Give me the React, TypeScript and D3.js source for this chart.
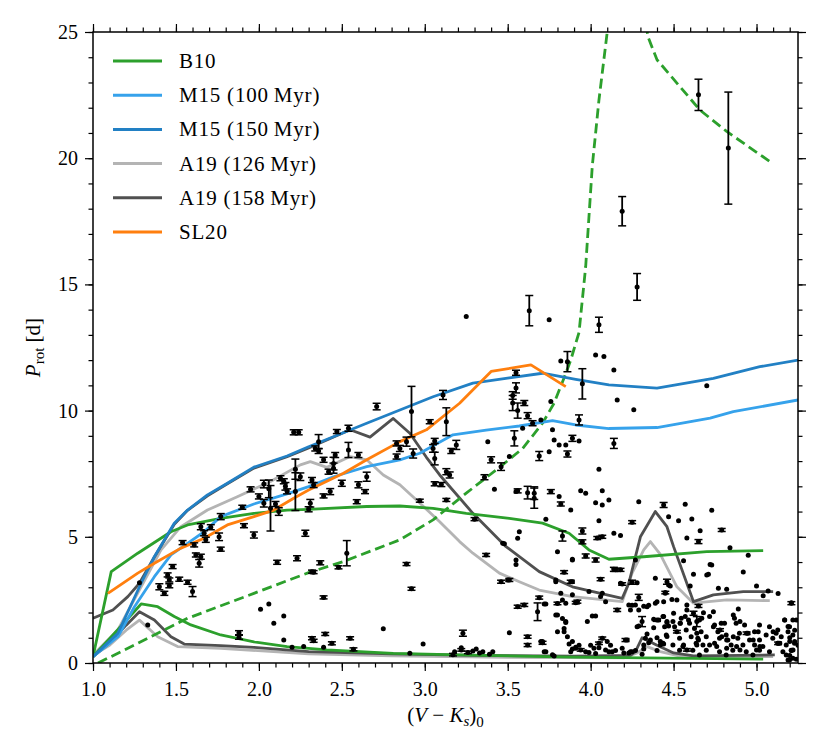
import * as d3 from "d3";
import { useEffect, useRef } from "react";

// gyrochronology model tracks, [colour index (V-Ks)0, Prot in days]
const b10Upper = [[1.0,0.25],[1.11,3.62],[1.27,4.35],[1.47,5.2],[1.57,5.47],[1.77,5.73],[1.97,5.93],[2.17,6.06],[2.3,6.09],[2.65,6.2],[2.85,6.22],[3.05,6.13],[3.25,5.93],[3.51,5.73],[3.71,5.54],[3.87,5.14],[3.99,4.48],[4.11,4.11],[4.32,4.21],[4.7,4.41],[5.04,4.45]];
const b10Lower = [[1.0,0.25],[1.13,1.18],[1.29,2.34],[1.39,2.23],[1.49,1.84],[1.59,1.51],[1.77,1.11],[1.97,0.84],[2.17,0.65],[2.41,0.52],[2.81,0.38],[3.21,0.32],[3.89,0.23],[5.04,0.15]];
const b10DashA = [[1.03,0],[1.17,0.45],[1.57,1.77],[1.97,2.76],[2.3,3.58],[2.51,4.02],[2.85,4.88],[3.05,5.67],[3.25,6.73],[3.45,7.75],[3.59,8.5],[3.71,9.5],[3.78,10.3],[3.84,11.3],[3.88,12.0],[3.93,13.1],[3.97,15.7],[4.01,19.7],[4.05,22.3],[4.1,25],[4.13,27]];
const b10DashB = [[4.31,26.5],[4.345,24.82],[4.4,23.9],[4.66,21.9],[4.82,21.06],[5.08,19.87]];
const m15y100 = [[1.0,0.25],[1.15,1.04],[1.25,2.23],[1.37,3.42],[1.47,4.28],[1.57,4.74],[1.67,5.2],[1.77,5.8],[1.97,6.3],[2.17,6.7],[2.3,6.99],[2.45,7.38],[2.65,7.78],[2.85,8.05],[2.97,8.31],[3.17,9.04],[3.37,9.23],[3.57,9.39],[3.77,9.6],[3.91,9.43],[4.11,9.29],[4.4,9.33],[4.72,9.7],[4.86,9.96],[5.25,10.42]];
const m15y150 = [[1.0,0.25],[1.15,1.18],[1.29,3.16],[1.37,4.21],[1.49,5.54],[1.57,6.06],[1.69,6.66],[1.81,7.12],[1.97,7.76],[2.17,8.2],[2.3,8.57],[2.65,9.5],[3.05,10.55],[3.29,11.09],[3.51,11.3],[3.71,11.48],[3.91,11.24],[4.11,11.02],[4.4,10.89],[4.74,11.28],[5.02,11.74],[5.25,12.0]];
const a19y126Upper = [[1.0,0.32],[1.15,1.31],[1.29,3.02],[1.41,4.48],[1.53,5.4],[1.69,6.06],[1.87,6.59],[2.07,7.19],[2.25,7.85],[2.31,7.98],[2.41,7.75],[2.55,8.18],[2.65,8.05],[2.75,7.45],[2.85,7.06],[2.95,6.46],[3.09,5.6],[3.21,4.81],[3.29,4.35],[3.45,3.56],[3.57,3.22],[3.69,2.89],[3.89,2.63],[4.19,2.43],[4.25,3.56],[4.32,4.48],[4.36,4.81],[4.42,4.3],[4.52,3.02],[4.62,2.37],[4.82,2.5],[5.08,2.47]];
const a19y126Lower = [[1.0,0.3],[1.1,0.7],[1.2,1.3],[1.28,1.7],[1.39,1.04],[1.51,0.65],[1.77,0.58],[2.3,0.36],[2.8,0.28],[3.5,0.22],[4.2,0.2],[4.28,0.4],[4.34,0.65],[4.42,0.45],[4.55,0.25],[5.1,0.25]];
const a19y158Upper = [[1.0,1.77],[1.12,2.1],[1.21,2.63],[1.28,3.16],[1.37,4.2],[1.49,5.5],[1.57,6.05],[1.69,6.62],[1.81,7.1],[1.97,7.72],[2.17,8.17],[2.3,8.52],[2.55,9.24],[2.67,8.95],[2.81,9.69],[2.91,9.1],[3.01,8.15],[3.09,7.45],[3.29,5.93],[3.49,4.61],[3.69,3.62],[3.89,3.02],[4.19,2.56],[4.23,3.16],[4.3,5.0],[4.39,6.0],[4.46,5.4],[4.5,4.61],[4.62,2.43],[4.74,2.7],[4.92,2.83],[5.1,2.83]];
const a19y158Lower = [[1.0,0.25],[1.1,0.8],[1.2,1.5],[1.28,2.03],[1.37,1.7],[1.47,1.04],[1.55,0.75],[1.77,0.69],[1.97,0.62],[2.3,0.45],[2.8,0.36],[3.3,0.3],[3.9,0.27],[4.24,0.3],[4.27,0.45],[4.31,1.0],[4.4,0.7],[4.5,0.4],[4.62,0.28],[5.11,0.32]];
const sl20 = [[1.09,2.76],[1.27,3.56],[1.37,3.95],[1.53,4.55],[1.67,4.94],[1.81,5.47],[1.97,5.8],[2.09,6.06],[2.21,6.53],[2.3,6.85],[2.51,7.52],[2.65,8.05],[2.85,8.77],[3.01,9.24],[3.21,10.29],[3.4,11.55],[3.64,11.81],[3.85,10.95]];

// measured periods with uncertainties [x, Prot, err]
const errPoints = [
  [2.21,9.14,0.1],[2.24,9.14,0.1],[2.22,7.68,0.4],[2.22,6.79,0.75],[2.25,7.38,0.15],
  [1.40,3.02,0.12],[1.60,2.83,0.2],[1.54,4.77,0.08],[1.61,4.68,0.08],[1.62,4.28,0.08],[1.65,4.21,0.1],[1.64,3.95,0.15],[1.65,5.4,0.12],[1.67,5.14,0.1],[1.68,4.88,0.1],[1.71,5.38,0.1],[1.76,5.0,0.15],[1.77,4.51,0.08],[1.77,5.8,0.12],[1.90,6.17,0.08],[1.91,5.44,0.08],[1.97,5.07,0.12],[1.95,6.88,0.1],[2.0,6.6,0.1],[2.03,7.09,0.15],[2.03,6.33,0.15],[2.06,6.9,0.35],[2.07,6.13,0.9],[2.10,6.3,0.1],[2.12,6.0,0.15],[2.13,7.32,0.1],[2.15,7.2,0.1],[2.16,7.0,0.15],[2.17,6.8,0.1],[2.11,3.99,0.08],[2.23,4.15,0.1],[1.88,1.2,0.08],[1.88,1.02,0.08],[1.46,3.29,0.08],[1.48,3.82,0.08],[1.52,3.32,0.08],[1.57,3.2,0.08],[1.43,2.76,0.08],[1.45,3.49,0.08],[1.46,3.06,0.08],
  [2.71,10.16,0.13],[2.92,9.96,1.0],[3.11,10.62,0.18],[3.03,9.56,0.08],[3.13,9.56,0.55],[2.54,9.3,0.12],[2.47,9.17,0.08],[2.36,8.77,0.28],[2.34,8.5,0.1],[2.36,8.4,0.1],[2.54,8.44,0.3],[2.46,8.24,0.1],[2.45,7.9,0.25],[2.45,7.72,0.2],[2.39,8.05,0.1],[2.42,7.58,0.1],[2.60,8.24,0.1],[2.65,7.38,0.18],[2.50,7.12,0.12],[2.60,7.06,0.12],[2.64,6.79,0.08],[2.43,6.79,0.12],[2.39,6.62,0.08],[2.32,7.25,0.1],[2.33,7.05,0.1],[2.31,6.33,0.15],[2.30,6.09,0.1],[2.28,5.14,0.12],[2.59,6.39,0.08],[2.53,4.35,0.5],[2.37,3.97,0.08],[2.32,3.62,0.06],[2.33,3.6,0.06],[2.48,3.79,0.06],[2.39,2.6,0.06],[2.89,3.92,0.06],[2.92,2.94,0.06],[2.32,0.98,0.06],[2.33,0.88,0.06],[2.40,1.15,0.06],[2.44,0.78,0.06],[2.55,0.98,0.06],[2.57,0.54,0.06],[3.23,1.18,0.12],[3.17,0.33,0.05],[3.22,0.52,0.05],[3.26,0.42,0.05],
  [2.89,8.77,0.18],[2.83,8.7,0.1],[2.85,8.5,0.12],[2.83,8.18,0.1],[2.93,8.3,0.18],[3.06,8.8,0.1],[3.05,8.5,0.15],[3.06,8.1,0.25],[3.19,8.64,0.18],[3.16,8.4,0.1],[3.13,7.58,0.12],[3.15,7.45,0.12],[3.06,7.1,0.08],[3.10,7.07,0.08],[3.13,6.46,0.06],[2.97,6.43,0.06],[3.30,5.7,0.06],[3.36,7.36,0.1],[3.40,8.05,0.12],[3.46,7.78,0.15],[3.54,8.9,0.3],[3.53,10.6,0.15],[3.53,10.3,0.3],[3.55,10.9,0.2],[3.56,10.0,0.3],[3.60,10.3,0.1],[3.62,9.8,0.12],[3.65,9.5,0.1],[3.37,4.28,0.06],[3.46,3.22,0.06],[3.51,3.29,0.06],
  [3.63,13.96,0.6],[4.05,13.4,0.3],[4.28,14.9,0.53],[3.86,11.94,0.4],[3.95,11.06,0.6],[3.55,11.5,0.1],[4.65,22.51,0.62],[4.83,20.4,2.22],[4.19,17.9,0.58],
  [3.93,9.63,0.2],[3.89,8.9,0.12],[3.86,8.28,0.12],[3.69,8.2,0.18],[4.14,8.7,0.2],[3.56,6.82,0.08],[3.62,6.75,0.25],[3.66,6.73,0.25],[3.66,6.53,0.4],[3.76,6.79,0.08],[3.82,6.3,0.08],[4.44,6.26,0.1],[4.25,5.58,0.06],[3.83,5.03,0.2],[3.95,5.23,0.12],[3.95,4.8,0.08],[4.04,4.95,0.06],[4.07,5.0,0.06],[3.97,4.24,0.08],[4.03,4.08,0.08],[4.15,3.69,0.06],[4.18,3.69,0.06],[3.84,3.6,0.06],[3.88,3.22,0.06],[4.06,3.32,0.06],[3.69,2.59,0.06],[3.92,2.43,0.06],[3.60,2.3,0.06],[3.56,2.23,0.06],[3.68,2.03,0.35],[4.16,2.1,0.06],[4.31,1.64,0.2],[4.21,0.91,0.06],[3.62,1.04,0.06],[3.62,0.71,0.06],[3.71,0.8,0.06],
  [4.79,5.27,0.06],[4.65,4.81,0.08],[5.21,2.37,0.06],[4.46,3.22,0.1],[4.29,2.6,0.12],[4.25,3.2,0.08],[4.14,3.71,0.08],[4.62,1.97,0.08],[4.64,1.64,0.2],
  [3.80,2.36,0.05],[3.91,2.39,0.05],[4.19,3.13,0.05],[4.45,2.79,0.05],[4.65,2.26,0.06],[4.40,1.7,0.05],[4.07,0.98,0.05],[4.05,0.78,0.05],[3.94,0.52,0.05],[4.52,1.24,0.05],[4.78,1.31,0.05],[4.94,1.18,0.05],[5.13,0.78,0.05],[4.58,0.52,0.05],
];

// periods without plotted uncertainty [x, Prot]
const dots = [
  [1.28,3.18],[1.33,1.51],[2.01,2.13],[2.06,2.34],[2.09,1.57],[2.15,1.86],[2.15,0.91],[2.20,0.62],[2.27,0.65],[2.39,0.62],[2.75,1.36],[2.99,0.75],[2.91,0.39],[3.29,0.48],[3.33,0.4],[3.35,0.45],[3.51,1.2],[3.38,8.77],[3.42,6.88],[3.51,8.18],[3.55,6.79],[3.48,4.72],[3.55,3.9],
  [3.25,13.73],[3.75,13.6],[3.82,11.97],[4.03,12.2],[4.08,12.14],[4.14,11.61],[4.16,10.42],[3.76,10.36],[4.26,10.03],[3.59,9.3],[3.70,9.63],[3.77,9.24],[3.78,8.84],[3.81,8.64],[3.85,8.64],[3.93,8.8],[3.75,8.37],[4.05,7.68],[3.81,6.6],[3.88,6.06],[3.94,6.82],[3.97,6.73],[4.03,6.35],[4.07,6.26],[4.07,6.82],[4.11,6.46],[4.05,5.64],[4.29,6.39],[3.73,5.7],[3.57,5.2],[3.56,4.94],[4.14,5.14],[4.18,5.05],[3.80,4.41],[3.89,4.11],[3.79,3.22],[4.39,3.36],[3.82,2.76],[3.83,2.5],[3.89,2.7],[3.72,2.34],[3.85,2.37],[3.79,1.9],[3.83,1.76],[3.85,1.6],[3.84,1.24],[3.98,1.64],[4.03,1.86],[4.06,2.63],[4.09,2.43],[4.23,2.3],[4.25,2.29],[4.32,2.25],[4.35,2.29],[4.29,1.47],[4.39,2.37],[4.41,1.7],[4.44,1.84],[4.46,1.6],[3.80,1.24],[3.84,1.37],[3.86,1.04],[3.87,0.75],[3.91,0.62],[3.93,0.7],[3.89,0.55],[4.00,0.7],[4.05,0.6],[4.10,0.85],[4.12,0.7],[4.11,0.45],[4.15,0.5],[4.20,0.4],[4.23,0.4],[4.27,0.5],[3.72,0.45],[3.77,0.33],[3.88,0.45],[3.99,0.42],[4.03,0.38],[4.38,1.4],[4.40,1.0],[4.42,0.85],[4.44,0.75],[4.46,1.05],[4.33,0.98],[4.35,0.8],[4.47,1.47],[4.25,0.45],[4.32,0.55],[4.31,0.35],[4.40,0.5],
  [4.70,10.98],[4.57,6.29],[4.73,6.05],[4.47,5.79],[4.53,5.64],[4.61,5.71],[4.66,5.24],[4.58,4.95],[4.84,4.57],[4.95,4.27],[4.56,4.05],[4.72,3.9],[4.62,3.52],[4.71,3.52],[4.92,3.61],[4.48,3.05],[4.60,3.05],[4.77,2.96],[4.82,2.92],[5.00,3.05],[4.52,2.5],[5.07,2.85],[5.13,2.75],[4.89,2.14],[5.04,2.66],
  [4.436,1.84],[4.496,1.64],[4.546,1.77],[4.596,1.57],[4.656,1.7],[4.717,1.84],[4.747,1.51],[4.787,1.57],[4.807,1.57],[4.867,1.77],[4.877,1.57],[4.928,1.51],[5.018,1.51],[5.078,1.44],[5.128,1.31],[5.169,1.7],[5.219,1.7],
  [4.446,1.44],[4.506,1.44],[4.576,1.31],[4.626,1.37],[4.666,1.24],[4.767,1.24],[4.817,1.11],[4.897,1.18],[4.948,1.18],[4.988,1.24],[5.058,1.11],[5.118,1.18],[5.199,1.44],
  [4.456,1.11],[4.536,0.98],[4.606,1.04],[4.646,0.98],[4.697,1.04],[4.777,0.98],[4.827,0.91],[4.887,0.98],[4.958,0.91],[5.018,0.91],[5.098,0.98],[5.149,1.04],[5.219,1.11],
  [4.436,0.78],[4.496,0.71],[4.556,0.65],[4.636,0.78],[4.677,0.71],[4.717,0.71],[4.747,0.78],[4.847,0.71],[4.918,0.71],[4.988,0.71],[5.038,0.65],[5.128,0.78],[5.179,0.71],[5.229,0.78],
  [4.536,0.51],[4.616,0.51],[4.697,0.51],[4.777,0.45],[4.857,0.51],[4.938,0.45],[5.018,0.51],[5.078,0.45],[5.159,0.45],[5.209,0.51],
  [4.656,0.32],[4.817,0.32],[4.978,0.32],[5.179,0.32],[5.199,0.12],[5.219,0.19],
  [5.24,1.7],[5.19,1.45],[5.23,1.3],[5.2,1.0],[5.23,0.85],[5.25,0.7],[5.21,0.5],[5.2,0.3],[5.24,0.15],[5.21,2.39],
  [3.47,4.74],[3.55,4.08],[3.5,3.29],[3.73,2.34],[3.79,3.29],[3.89,3.22],[3.89,4.08],[3.7,0.85],[3.78,0.28],[3.18,0.45],[3.22,0.6],[3.31,0.55],[3.39,0.35],[3.41,0.45],
  [4.27,4.08],[4.18,3.16],[4.29,2.1],[4.34,2.23],[4.24,2.1],[4.28,1.44],[4.45,2.76],[4.40,2.43],[4.44,2.43],
  [4.5,1.97],[4.54,1.57],[4.58,2.1],[4.67,1.77],
  [3.99,2.83],[4.07,2.76],[4.28,3.18],[4.47,3.09],[4.70,3.49],[4.73,3.88],[4.27,2.3],[4.49,2.52],[4.58,2.3],[4.68,1.99],[4.74,2.03],[4.86,1.9],[4.90,1.64],[4.57,1.84],[4.59,1.7],[4.46,1.64],[4.38,1.73],[4.01,1.86],[3.80,1.9],[3.85,1.64],[3.71,0.85],[3.73,0.45],
  [4.34,1.15],[4.36,0.91],[4.32,0.71],[4.42,0.71],[4.02,0.58],[4.09,0.52],[4.13,0.45],[3.89,0.85],[3.91,0.58],[3.97,0.45],[4.22,0.91],[4.19,0.58],[4.24,0.45],[4.54,1.57],[4.64,1.18],[4.65,0.91],[4.64,0.71],[4.74,1.44],[4.79,1.04],[4.76,0.65],[4.82,0.91],[4.86,1.04],[4.88,0.65],[4.98,0.91],[5.01,1.24],[5.02,0.65],[5.0,0.52],[5.10,1.24],[5.14,0.78],[5.17,1.7],[5.19,1.24],[5.20,0.85],[5.22,0.52],[5.19,0.12],[4.56,0.71],[4.82,0.58],[4.90,0.52],
];

const xTicks = [1.0, 1.5, 2.0, 2.5, 3.0, 3.5, 4.0, 4.5, 5.0];
const yTicks = [0, 5, 10, 15, 20, 25];

const series = [
  { name: "B10", color: "#2ca02c" },
  { name: "M15 (100\u2009Myr)", color: "#36a2eb" },
  { name: "M15 (150\u2009Myr)", color: "#2280c4" },
  { name: "A19 (126\u2009Myr)", color: "#b4b4b4" },
  { name: "A19 (158\u2009Myr)", color: "#505050" },
  { name: "SL20", color: "#ff7f0e" },
];

const FONT = "'Liberation Serif', 'DejaVu Serif', serif";

const App = () => {
  const svgRef = useRef(null);

  useEffect(() => {
    const width = 830;
    const height = 755;
    const left = 93, right = 798, top = 32, bottom = 663;

    const root = d3.select(svgRef.current);
    root.selectAll("*").remove();
    const svg = root.attr("width", width).attr("height", height);

    const x = d3.scaleLinear().domain([1.0, 5.25]).range([left, right]);
    const y = d3.scaleLinear().domain([0, 25]).range([bottom, top]);

    svg.append("defs").append("clipPath").attr("id", "plot-clip")
      .append("rect").attr("x", left).attr("y", top)
      .attr("width", right - left).attr("height", bottom - top);

    const plot = svg.append("g").attr("clip-path", "url(#plot-clip)");
    const line = d3.line().x((d) => x(d[0])).y((d) => y(d[1]));

    const drawLine = (data, color, dash = null) => {
      plot.append("path").datum(data)
        .attr("d", line)
        .attr("fill", "none")
        .attr("stroke", color)
        .attr("stroke-width", 2.8)
        .attr("stroke-linejoin", "round")
        .attr("stroke-dasharray", dash);
    };

    // models (gray drawn first so the blue sits over it)
    drawLine(a19y126Upper, series[3].color);
    drawLine(a19y126Lower, series[3].color);
    drawLine(a19y158Upper, series[4].color);
    drawLine(a19y158Lower, series[4].color);
    drawLine(b10Upper, series[0].color);
    drawLine(b10Lower, series[0].color);
    drawLine(b10DashA, series[0].color, "10,5");
    drawLine(b10DashB, series[0].color, "10,5");
    drawLine(m15y100, series[1].color);
    drawLine(m15y150, series[2].color);
    drawLine(sl20, series[5].color);

    // data points
    const pts = plot.append("g");
    pts.selectAll("circle.dot").data(dots).enter().append("circle")
      .attr("class", "dot")
      .attr("cx", (d) => x(d[0])).attr("cy", (d) => y(d[1]))
      .attr("r", 2.5).attr("fill", "black");

    const eb = pts.selectAll("g.eb").data(errPoints).enter().append("g").attr("class", "eb");
    eb.append("line")
      .attr("x1", (d) => x(d[0])).attr("x2", (d) => x(d[0]))
      .attr("y1", (d) => y(d[1] - d[2])).attr("y2", (d) => y(d[1] + d[2]))
      .attr("stroke", "black").attr("stroke-width", 1.8);
    [-1, 1].forEach((s) => {
      eb.append("line")
        .attr("x1", (d) => x(d[0]) - 4).attr("x2", (d) => x(d[0]) + 4)
        .attr("y1", (d) => y(d[1] + s * d[2])).attr("y2", (d) => y(d[1] + s * d[2]))
        .attr("stroke", "black").attr("stroke-width", 1.5);
    });
    eb.append("circle")
      .attr("cx", (d) => x(d[0])).attr("cy", (d) => y(d[1]))
      .attr("r", 2.5).attr("fill", "black");

    // axes: ticks outward on all four sides
    const xMinor = d3.range(1.0, 5.25, 0.1).map((v) => +v.toFixed(1));
    const yMinor = d3.range(0, 26, 1);
    const styleAxis = (g) => {
      g.select(".domain").remove();
      g.selectAll("line").attr("stroke", "black").attr("stroke-width", 1.2);
      g.selectAll("text").attr("font-family", FONT).attr("font-size", 20).attr("fill", "black");
    };

    svg.append("g").attr("transform", `translate(0,${bottom})`)
      .call(d3.axisBottom(x).tickValues(xMinor).tickSize(4.5).tickFormat(() => "")).call(styleAxis);
    const gxbM = svg.append("g").attr("transform", `translate(0,${bottom})`)
      .call(d3.axisBottom(x).tickValues(xTicks).tickSize(8).tickPadding(10).tickFormat(d3.format(".1f")))
      .call(styleAxis);
    gxbM.selectAll("text").attr("dy", "0.75em");

    svg.append("g").attr("transform", `translate(0,${top})`)
      .call(d3.axisTop(x).tickValues(xMinor).tickSize(4.5).tickFormat(() => "")).call(styleAxis);
    svg.append("g").attr("transform", `translate(0,${top})`)
      .call(d3.axisTop(x).tickValues(xTicks).tickSize(8).tickFormat(() => "")).call(styleAxis);

    svg.append("g").attr("transform", `translate(${left},0)`)
      .call(d3.axisLeft(y).tickValues(yMinor).tickSize(4.5).tickFormat(() => "")).call(styleAxis);
    svg.append("g").attr("transform", `translate(${left},0)`)
      .call(d3.axisLeft(y).tickValues(yTicks).tickSize(8).tickPadding(7).tickFormat(d3.format("d")))
      .call(styleAxis);

    svg.append("g").attr("transform", `translate(${right},0)`)
      .call(d3.axisRight(y).tickValues(yMinor).tickSize(4.5).tickFormat(() => "")).call(styleAxis);
    svg.append("g").attr("transform", `translate(${right},0)`)
      .call(d3.axisRight(y).tickValues(yTicks).tickSize(8).tickFormat(() => "")).call(styleAxis);

    // frame
    svg.append("rect").attr("x", left).attr("y", top)
      .attr("width", right - left).attr("height", bottom - top)
      .attr("fill", "none").attr("stroke", "black").attr("stroke-width", 1.5);

    // axis labels
    const xl = svg.append("text").attr("x", (left + right) / 2).attr("y", 722)
      .attr("text-anchor", "middle").attr("font-family", FONT).attr("font-size", 21);
    xl.append("tspan").text("(");
    xl.append("tspan").attr("font-style", "italic").text("V");
    xl.append("tspan").text(" \u2212 ");
    xl.append("tspan").attr("font-style", "italic").text("K");
    xl.append("tspan").attr("font-style", "italic").attr("font-size", 15).attr("dy", 4).text("s");
    xl.append("tspan").attr("dy", -4).text(")");
    xl.append("tspan").attr("font-size", 15).attr("dy", 5).text("0");

    const yl = svg.append("text")
      .attr("transform", `translate(40,${(top + bottom) / 2}) rotate(-90)`)
      .attr("text-anchor", "middle").attr("font-family", FONT).attr("font-size", 21);
    yl.append("tspan").attr("font-style", "italic").text("P");
    yl.append("tspan").attr("font-size", 15).attr("dy", 4).text("rot");
    yl.append("tspan").attr("dy", -4).text(" [d]");

    // legend
    const lg = svg.append("g").attr("transform", "translate(113,61)");
    series.forEach((s, i) => {
      const row = lg.append("g").attr("transform", `translate(0,${i * 34.2})`);
      row.append("line").attr("x1", 0).attr("x2", 49).attr("y1", 0).attr("y2", 0)
        .attr("stroke", s.color).attr("stroke-width", 3);
      row.append("text").attr("x", 66).attr("y", 7)
        .attr("font-family", FONT).attr("font-size", 21).attr("letter-spacing", 0.8)
        .attr("fill", "black")
        .text(s.name);
    });
  }, []);

  return (
    <svg ref={svgRef} style={{ position: "absolute", left: 0, top: 0, background: "white" }}></svg>
  );
};

export default App;
